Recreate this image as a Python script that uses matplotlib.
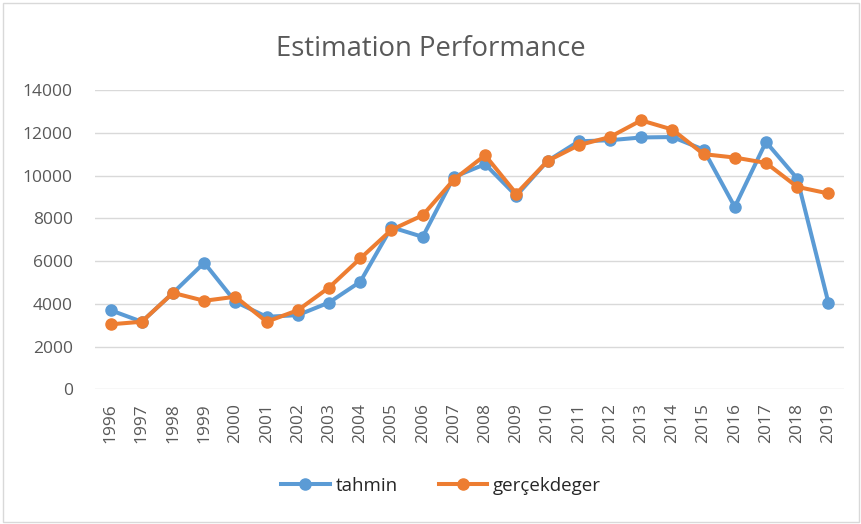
import matplotlib.pyplot as plt

years = [str(y) for y in range(1996, 2020)]
tahmin = [3700, 3160, 4510, 5920, 4090, 3390, 3470, 4060, 5030, 7580, 7130, 9930,
          10530, 9050, 10680, 11600, 11650, 11780, 11800, 11210, 8530, 11570, 9860, 4050]
gercek = [3040, 3160, 4510, 4140, 4330, 3160, 3700, 4760, 6120, 7460, 8140, 9810,
          10950, 9150, 10680, 11420, 11800, 12580, 12150, 11000, 10840, 10590, 9470, 9160]
yticks = list(range(0, 14001, 2000))

plt.rcParams['font.family'] = ['Open Sans', 'DejaVu Sans']
text_color = '#595959'

fig = plt.figure(figsize=(8.62, 5.24), dpi=100)
ax = fig.add_axes([95 / 862, 1 - 389.3 / 524, (844 - 95) / 862, (389.3 - 90) / 524])

x = range(len(years))
ax.plot(x, tahmin, color='#5B9BD5', lw=2.9, marker='o', ms=8, label='tahmin')
ax.plot(x, gercek, color='#ED7D31', lw=2.9, marker='o', ms=8, label='gerçekdeger')

ax.set_xlim(-0.5, len(years) - 0.5)
ax.set_ylim(0, 14000)
ax.set_yticks(yticks)
ax.set_yticklabels([str(v) for v in yticks])
ax.set_xticks(list(x))
ax.set_xticklabels(years, rotation=90)
ax.tick_params(length=0, colors=text_color, labelsize=12.5)
ax.tick_params(axis='y', pad=16)
ax.tick_params(axis='x', pad=10)
ax.grid(axis='y', color='#D9D9D9', lw=1)
ax.set_axisbelow(True)
for s in ax.spines.values():
    s.set_visible(False)

fig.text(0.5, 1 - 49 / 524, 'Estimation Performance', ha='center', va='center',
         fontsize=19.8, color=text_color)
fig.legend(loc='center', bbox_to_anchor=(441 / 862, 1 - 486 / 524), ncol=2,
           frameon=False, fontsize=13.5, handlelength=2.6, columnspacing=2.2,
           handletextpad=0.3, labelcolor='#262626')

border = plt.Rectangle((0.003, 0.004), 0.994, 0.99, transform=fig.transFigure,
                       fill=False, ec='#D9D9D9', lw=1)
fig.patches.append(border)

fig.savefig('out.png', dpi=100)
